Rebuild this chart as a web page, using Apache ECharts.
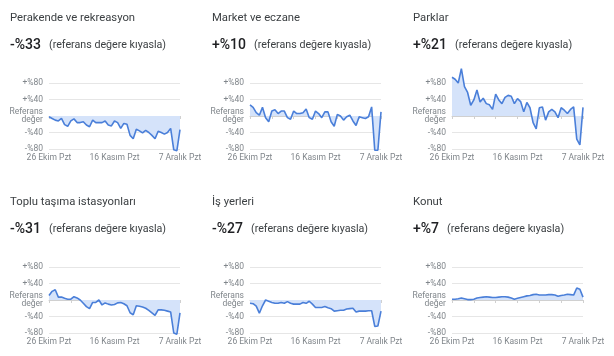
<!DOCTYPE html>
<html>
<head>
<meta charset="utf-8">
<script src="https://cdn.jsdelivr.net/npm/echarts@6/dist/echarts.min.js"></script>
<style>
html,body{margin:0;padding:0;background:#fff;}
#c{width:614px;height:356px;}
</style>
</head>
<body>
<div id="c"></div>
<script>
// Categories: daily dates, 26 Oct – 7 Dec
const dates = [
  '26 Eki','27 Eki','28 Eki','29 Eki','30 Eki','31 Eki',
  '1 Kas','2 Kas','3 Kas','4 Kas','5 Kas','6 Kas','7 Kas','8 Kas','9 Kas','10 Kas',
  '11 Kas','12 Kas','13 Kas','14 Kas','15 Kas','16 Kas','17 Kas','18 Kas','19 Kas','20 Kas',
  '21 Kas','22 Kas','23 Kas','24 Kas','25 Kas','26 Kas','27 Kas','28 Kas','29 Kas','30 Kas',
  '1 Ara','2 Ara','3 Ara','4 Ara','5 Ara','6 Ara','7 Ara'
];
// Labeled dates and their tick labels
const labeledDates = ['26 Eki','16 Kas','7 Ara'];
const xTickLabels = ['26 Ekim Pzt','16 Kasım Pzt','7 Aralık Pzt'];
// Weekly tick dates (Mondays)
const tickDates = ['26 Eki','2 Kas','9 Kas','16 Kas','23 Kas','30 Kas','7 Ara'];
// Y ticks
const yTicks = [-80,-40,0,40,80];
const yTickLabels = ['-%80','-%40','Referans\ndeğer','+%40','+%80'];

// Panel titles and headline values
const panelTitles = ['Perakende ve rekreasyon','Market ve eczane','Parklar','Toplu taşıma istasyonları','İş yerleri','Konut'];
const headlines = ['-%33','+%10','+%21','-%31','-%27','+%7'];
const subText = '(referans değere kıyasla)';

// Series values (% change vs baseline)
const retail = [-2,-6,-10,-12,-6,-21,-25,-12,-7,-16,-16,-14,-22,-26,-10,-16,-16,-16,-12,-22,-24,-12,-16,-30,-18,-20,-47,-55,-32,-36,-41,-35,-40,-47,-55,-37,-40,-44,-40,-30,-82,-84,-33];
const grocery = [27,21,8,2,21,-4,-14,12,15,6,12,12,-4,-8,12,6,6,8,17,-4,-8,12,6,-4,10,10,-14,-25,4,0,-10,-2,2,-12,-23,-2,-4,-6,-2,22,-83,-83,10];
const parks = [94,89,80,115,71,57,26,39,63,34,43,30,27,16,53,39,30,45,50,48,30,42,35,10,33,20,-16,-31,20,22,-10,10,16,10,-4,20,14,6,16,22,-56,-70,21];
const transit = [11,21,25,7,7,4,2,2,8,5,0,-8,-16,-21,-6,-6,0,-12,-7,-10,-12,-11,-7,-6,-9,-14,-31,-36,-14,-15,-17,-20,-25,-31,-37,-24,-24,-25,-27,-29,-80,-83,-31];
const workplaces = [-8,-9,-15,-32,-14,0,-3,-6,-8,-8,-6,-8,-4,-8,-10,-10,-10,-6,-8,-3,-10,-18,-18,-18,-16,-19,-21,-27,-26,-25,-25,-22,-21,-20,-29,-27,-27,-27,-26,-26,-64,-63,-27];
const residential = [2,2,3,5,3,1,1,2,5,6,7,8,7,6,6,7,8,8,7,5,2,4,6,8,10,11,13,14,12,12,12,13,13,12,9,11,12,14,13,12,29,26,7];

const seriesData = [retail, grocery, parks, transit, workplaces, residential];

const chart = echarts.init(document.getElementById('c'), null, {renderer:'canvas'});
const FONT = 'Roboto';
const colX = [10, 212, 413];
const gridLeft = [49, 250, 452];
const rowTop = [0, 184];

const titles = [], grids = [], xAxes = [], yAxes = [], series = [];
for (let p = 0; p < 6; p++) {
  const col = p % 3, row = Math.floor(p / 3);
  const oy = rowTop[row];
  titles.push({
    text: panelTitles[p], left: colX[col], top: oy + 13, padding: 0,
    textStyle: {fontFamily: FONT, fontSize: 11.3, fontWeight: 'normal', color: '#3c4043'}
  });
  titles.push({
    text: '{a|' + headlines[p] + '}{b|' + subText + '}', left: colX[col], top: oy + 38, padding: 0,
    textStyle: {fontWeight: 'normal', rich: {
      a: {fontFamily: FONT, fontSize: 14, fontWeight: 500, color: '#202124', padding: [0, 8, 0, 0]},
      b: {fontFamily: FONT, fontSize: 10.7, fontWeight: 'normal', color: '#3c4043'}
    }}
  });
  grids.push({left: gridLeft[col], top: oy + 83, width: 131, height: 66});
  xAxes.push({
    type: 'category', gridIndex: p, data: dates, boundaryGap: false,
    axisLine: {show: true, lineStyle: {color: '#d0d0d0'}},
    axisTick: {show: true, length: 3, lineStyle: {color: '#d0d0d0'},
      interval: (i, v) => tickDates.indexOf(v) >= 0},
    axisLabel: {show: true, fontFamily: FONT, fontSize: 8.5, color: '#80868b', margin: 4,
      interval: (i, v) => labeledDates.indexOf(v) >= 0,
      formatter: v => xTickLabels[labeledDates.indexOf(v)]},
    splitLine: {show: false}
  });
  yAxes.push({
    type: 'value', gridIndex: p, min: -80, max: 80, interval: 40,
    axisLine: {show: false}, axisTick: {show: false},
    axisLabel: {fontFamily: FONT, fontSize: 8.5, color: '#80868b', margin: 6, lineHeight: 8,
      formatter: v => yTickLabels[yTicks.indexOf(v)]},
    splitLine: {show: true, lineStyle: {color: '#e6e6e6', width: 1}}
  });
  series.push({
    type: 'line', xAxisIndex: p, yAxisIndex: p, data: seriesData[p],
    symbol: 'none', clip: false,
    lineStyle: {color: '#4a7fd9', width: 1.6},
    areaStyle: {color: '#d5e3fa', opacity: 1}
  });
}

chart.setOption({
  animation: false,
  backgroundColor: '#ffffff',
  title: titles, grid: grids, xAxis: xAxes, yAxis: yAxes, series: series
});
</script>
</body>
</html>
